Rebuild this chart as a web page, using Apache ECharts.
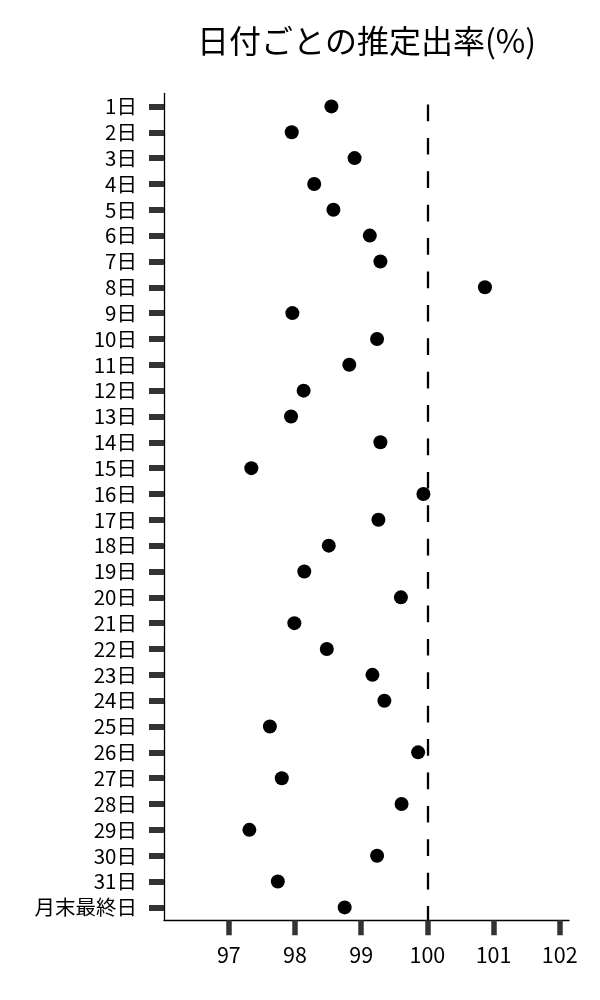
<!DOCTYPE html>
<html>
<head>
<meta charset="utf-8">
<script src="https://cdn.jsdelivr.net/npm/echarts@6/dist/echarts.min.js"></script>
<style>
  html, body { margin: 0; padding: 0; background: #fff; }
  #chart { width: 600px; height: 1000px; }
</style>
</head>
<body>
<div id="chart"></div>
<script>
// 日付ラベル（上から順）
var dayLabels = ['1日', '2日', '3日', '4日', '5日', '6日', '7日', '8日', '9日', '10日',
    '11日', '12日', '13日', '14日', '15日', '16日', '17日', '18日', '19日', '20日',
    '21日', '22日', '23日', '24日', '25日', '26日', '27日', '28日', '29日', '30日',
    '31日', '月末最終日'];
// 推定出率(%)
var rateValues = [98.55, 97.95, 98.90, 98.29, 98.58, 99.13, 99.29, 100.87, 97.96, 99.24,
    98.82, 98.13, 97.94, 99.29, 97.34, 99.94, 99.26, 98.51, 98.14, 99.60,
    97.99, 98.48, 99.17, 99.35, 97.62, 99.86, 97.80, 99.61, 97.31, 99.24,
    97.74, 98.75];
// x軸の目盛
var xTicks = [97, 98, 99, 100, 101, 102];
// 基準線
var refValue = 100;

var fontName = '"Noto Sans CJK JP", "Noto Sans", sans-serif';

var myChart = echarts.init(document.getElementById('chart'), null, { renderer: 'canvas' });

var pointData = [];
for (var i = 0; i < rateValues.length; i++) {
    pointData.push([rateValues[i], dayLabels[i]]);
}

var option = {
    animation: false,
    backgroundColor: '#fff',
    title: {
        text: '日付ごとの推定出率(%)',
        left: 366.5,
        top: 25,
        padding: 0,
        textAlign: 'center',
        textStyle: {
            fontFamily: fontName,
            fontSize: 32,
            fontWeight: 'normal',
            color: '#000'
        }
    },
    grid: {
        left: 164,
        right: 31,
        top: 93.5,
        bottom: 79.7,
        containLabel: false
    },
    xAxis: {
        type: 'value',
        min: 96.02,
        max: 102.14,
        axisLine: { show: true, lineStyle: { color: '#000', width: 1.3 } },
        axisTick: {
            show: true,
            customValues: xTicks,
            length: 15,
            lineStyle: { color: '#333', width: 5.5 }
        },
        axisLabel: {
            customValues: xTicks,
            margin: 24,
            color: '#000',
            fontFamily: fontName,
            fontSize: 21.5
        },
        splitLine: { show: false }
    },
    yAxis: {
        type: 'category',
        inverse: true,
        data: dayLabels,
        axisLine: { show: true, lineStyle: { color: '#000', width: 1.3 } },
        axisTick: {
            show: true,
            alignWithLabel: true,
            length: 15,
            lineStyle: { color: '#333', width: 6 }
        },
        axisLabel: {
            interval: 0,
            margin: 27,
            color: '#000',
            fontFamily: fontName,
            fontSize: 20.5
        },
        splitLine: { show: false }
    },
    series: [
        {
            type: 'scatter',
            data: pointData,
            symbol: 'circle',
            symbolSize: 14,
            itemStyle: { color: '#000', opacity: 1 },
            markLine: {
                silent: true,
                symbol: 'none',
                label: { show: false },
                lineStyle: {
                    type: [16.7, 16.7],
                    dashOffset: 22.4,
                    color: '#000',
                    width: 2.3
                },
                data: [{ xAxis: refValue }]
            }
        }
    ]
};

myChart.setOption(option);

window.addEventListener('resize', function () {
    myChart.resize();
});
</script>
</body>
</html>
